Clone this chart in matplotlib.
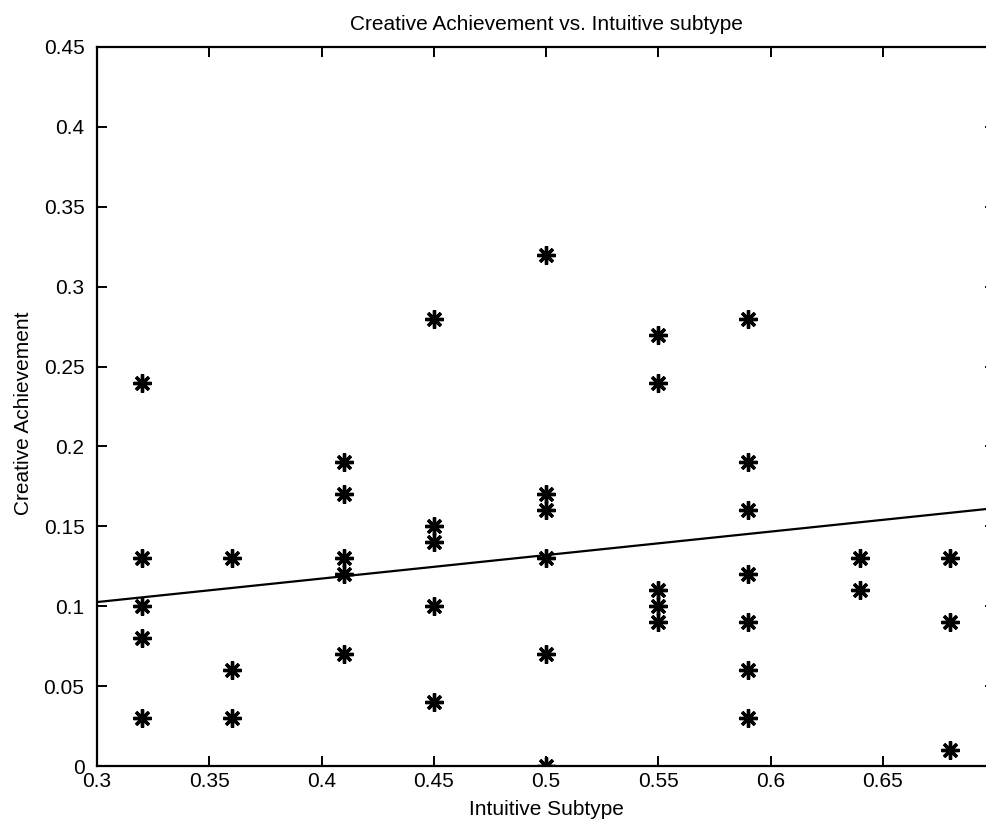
import matplotlib.pyplot as plt

plt.rcParams['font.family'] = ['Liberation Sans', 'DejaVu Sans']

# intuitive subtype scores and creative achievement scores
intuitive = [0.32, 0.32, 0.32, 0.32, 0.32,
             0.36, 0.36, 0.36,
             0.41, 0.41, 0.41, 0.41, 0.41,
             0.45, 0.45, 0.45, 0.45, 0.45,
             0.50, 0.50, 0.50, 0.50, 0.50, 0.50,
             0.55, 0.55, 0.55, 0.55, 0.55,
             0.59, 0.59, 0.59, 0.59, 0.59, 0.59, 0.59,
             0.64, 0.64,
             0.68, 0.68, 0.68]
creative = [0.24, 0.13, 0.10, 0.08, 0.03,
            0.13, 0.06, 0.03,
            0.19, 0.17, 0.13, 0.12, 0.07,
            0.28, 0.15, 0.14, 0.10, 0.04,
            0.32, 0.17, 0.16, 0.13, 0.07, 0.00,
            0.27, 0.24, 0.11, 0.10, 0.09,
            0.28, 0.19, 0.16, 0.12, 0.09, 0.06, 0.03,
            0.13, 0.11,
            0.13, 0.09, 0.01]

# fitted trend line
fit_x = [0.3, 0.7]
fit_y = [0.1026, 0.1614]

x_ticks = [0.3, 0.35, 0.4, 0.45, 0.5, 0.55, 0.6, 0.65]
x_labels = ["0.3", "0.35", "0.4", "0.45", "0.5", "0.55", "0.6", "0.65"]
y_ticks = [0, 0.05, 0.1, 0.15, 0.2, 0.25, 0.3, 0.35, 0.4, 0.45]
y_labels = ["0", "0.05", "0.1", "0.15", "0.2", "0.25", "0.3", "0.35", "0.4", "0.45"]

fig = plt.figure(figsize=(9.87, 8.31), dpi=100)
ax = fig.add_axes([97 / 987, 65 / 831, 898 / 987, 719 / 831])

ax.plot(intuitive, creative, linestyle='none', marker=(8, 2, 0),
        markersize=13, markeredgewidth=2.4, color='black')
ax.plot(fit_x, fit_y, color='black', linewidth=1.6)

ax.set_xlim(0.3, 0.7)
ax.set_ylim(0, 0.45)
ax.set_xticks(x_ticks)
ax.set_xticklabels(x_labels)
ax.set_yticks(y_ticks)
ax.set_yticklabels(y_labels)

ax.tick_params(direction='in', length=7, width=1.4, labelsize=15,
               top=True, right=True, color='black')
ax.tick_params(axis='x', pad=4)
ax.tick_params(axis='y', pad=9)
for s in ax.spines.values():
    s.set_linewidth(1.6)

ax.set_title("Creative Achievement vs. Intuitive subtype", fontsize=15, pad=12)
ax.set_xlabel("Intuitive Subtype", fontsize=15, labelpad=7)
ax.set_ylabel("Creative Achievement", fontsize=15)
ax.yaxis.set_label_coords(-0.071, 0.49)

fig.savefig("out.png", dpi=100)
